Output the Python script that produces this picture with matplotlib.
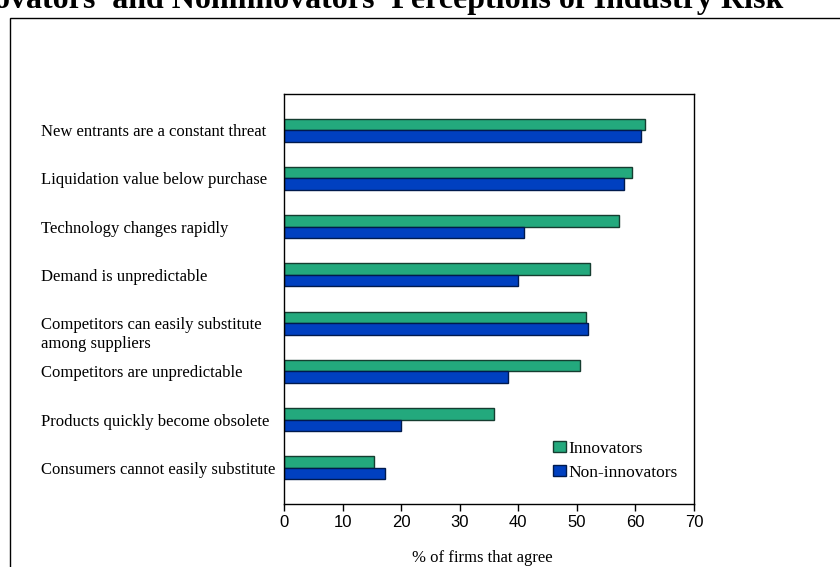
import matplotlib
matplotlib.use('Agg')
import matplotlib.pyplot as plt
import matplotlib.transforms as mtransforms
from matplotlib.patches import Rectangle
import numpy as np

plt.rcParams['font.family'] = 'Liberation Serif'

categories = [
    'New entrants are a constant threat',
    'Liquidation value below purchase',
    'Technology changes rapidly',
    'Demand is unpredictable',
    'Competitors can easily substitute\namong suppliers',
    'Competitors are unpredictable',
    'Products quickly become obsolete',
    'Consumers cannot easily substitute',
]
innovators = [61.6, 59.4, 57.2, 52.2, 51.5, 50.5, 35.8, 15.3]
non_innovators = [61.0, 58.0, 41.0, 39.9, 51.9, 38.2, 20.0, 17.2]
xticks = [0, 10, 20, 30, 40, 50, 60, 70]

title = "Innovators' and Noninnovators' Perceptions of Industry Risk"

fig = plt.figure(figsize=(8.4, 5.67), dpi=100)
ax = fig.add_axes([284 / 840, 1 - 504 / 567, 410 / 840, 410 / 567])

y = np.arange(len(categories))
h = 0.24
ax.barh(y - h / 2, innovators, height=h, color='#23a97d', edgecolor='#153d30',
        linewidth=1.0, label='Innovators')
ax.barh(y + h / 2, non_innovators, height=h, color='#0040c0', edgecolor='#001a4d',
        linewidth=1.0, label='Non-innovators')

ax.set_xlim(0, 70)
ax.set_ylim(7.75, -0.75)
ax.set_xticks(xticks)
ax.set_xticklabels([str(t) for t in xticks], family='Liberation Sans', fontsize=12)
ax.tick_params(axis='x', direction='out', length=5, width=1, pad=3)

ax.set_yticks(y)
ax.set_yticklabels(categories, ha='left', fontsize=12, linespacing=1.2)
ax.tick_params(axis='y', length=0, pad=(284 - 41) * 72 / 100)
# two-line label sits a bit lower than its bars
lbl = ax.get_yticklabels()[4]
lbl.set_transform(lbl.get_transform() +
                  mtransforms.ScaledTranslation(0, -8 / 100, fig.dpi_scale_trans))

for s in ax.spines.values():
    s.set_linewidth(1.0)
    s.set_color('black')

ax.set_xlabel('% of firms that agree', fontsize=12)
ax.xaxis.set_label_coords(0.483, -0.112)

ax.legend(loc='lower left', bbox_to_anchor=(0.638, 0.04), frameon=False,
          fontsize=12.5, handlelength=0.8, handleheight=0.6, handletextpad=0.1,
          labelspacing=0.45, borderaxespad=0)

fig.text(783 / 840, 1 - 8 / 567, title, ha='right', va='baseline',
         fontweight='bold', fontsize=23)

fig.add_artist(Rectangle((10 / 840, -0.1), 1.0, 1.1 - 18 / 567,
                         transform=fig.transFigure, fill=False,
                         edgecolor='black', linewidth=1.0))

fig.savefig('out.png', dpi=100)
